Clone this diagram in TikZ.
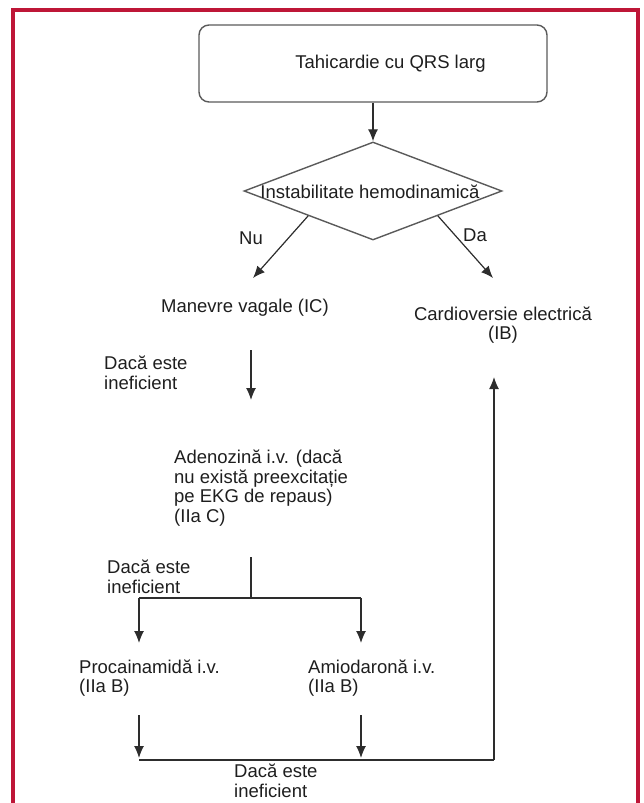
\documentclass[tikz,border=0pt]{standalone}
\usepackage{fontspec}
\setmainfont{Liberation Sans}
\usetikzlibrary{shapes.geometric,arrows.meta}
\definecolor{framered}{RGB}{190,22,55}
\definecolor{linegray}{RGB}{45,45,45}
\definecolor{boxgray}{RGB}{90,90,90}
\definecolor{txtgray}{RGB}{30,30,30}
\begin{document}
\begin{tikzpicture}[x=1pt,y=-1pt,>={Latex[length=12pt,width=10pt]},
  every node/.style={font=\fontsize{18.5}{19.5}\selectfont,text=txtgray,inner sep=0},
  startbox/.style={draw=boxgray,line width=1.4pt,rounded corners=10pt,minimum width=348,minimum height=77},
  condbox/.style={diamond,draw=boxgray,line width=1.4pt,minimum width=258,minimum height=98},
  arr/.style={->,line width=1.2pt,draw=linegray},
  ln/.style={line width=1.2pt,draw=linegray},
  txt/.style={align=left,anchor=west}]
\useasboundingbox (0,0) rectangle (644,803);
\draw[framered,line width=4pt](13,803)--(13,10)--(638,10)--(638,803);
% start and decision
\node[startbox](start) at (373,63.5){\hspace*{35pt}Tahicardie cu QRS larg};
\node[condbox](dec) at (373,191){};
\node(dectxt) at (370,192){Instabilitate hemodinamică};
\draw[arr](start.south)--(dec.north);
\node(nu) at (251,238){Nu};
\node(da) at (475,235){Da};
\coordinate(nuend) at (253,278);
\coordinate(daend) at (493,278);
\draw[arr](dec.south west)--(nuend);
\draw[arr](dec.south east)--(daend);
% branches
\node(vag) at (245,308){Manevre vagale (IC)};
\node[align=center](cv) at (503,325){Cardioversie electrică\\(IB)};
\node[txt](if1) at (104,373){Dacă este\\ineficient};
\coordinate(vagout) at (251,350);
\coordinate(adein) at (251,400);
\draw[arr](vagout)--(adein);
\node[txt](ade) at (174,488){Adenozină i.v. (dacă\\nu există preexcitație\\pe EKG de repaus)\\(IIa C)};
\node[txt](if2) at (107,577){Dacă este\\ineficient};
\coordinate(adeout) at (251,557);
\coordinate(split) at (251,598);
\coordinate(pl) at (139,598);
\coordinate(pr) at (361,598);
\coordinate(procin) at (139,643);
\coordinate(amioin) at (361,643);
\draw[ln](adeout)--(split);
\draw[ln](pl)--(pr);
\draw[arr](pl)--(procin);
\draw[arr](pr)--(amioin);
\node[txt](proc) at (79,678){Procainamidă i.v.\\(IIa B)};
\node[txt](amio) at (308,678){Amiodaronă i.v.\\(IIa B)};
% back to cardioversion
\coordinate(procout) at (139,715);
\coordinate(amioout) at (361,715);
\coordinate(procend) at (139,758);
\coordinate(amioend) at (361,758);
\draw[arr](procout)--(procend);
\draw[arr](amioout)--(amioend);
\coordinate(bl) at (139,760);
\coordinate(br) at (494,760);
\coordinate(cvin) at (494,377);
\draw[ln](bl)--(br);
\draw[arr](br)--(cvin);
\node[txt](if3) at (234,781){Dacă este\\ineficient};
\end{tikzpicture}
\end{document}
